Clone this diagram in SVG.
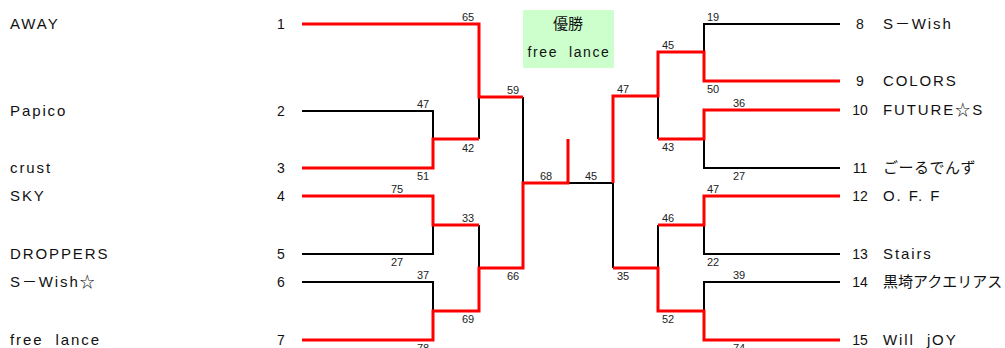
<svg xmlns="http://www.w3.org/2000/svg" width="1005" height="348" viewBox="0 0 1005 348">
<style>
.bg{fill:#ffffff}
.name{font-family:"Liberation Sans","Noto Sans CJK JP",sans-serif;font-size:15px;letter-spacing:1.9px;fill:#111}
.jp{font-family:"Noto Sans CJK JP","Liberation Sans",sans-serif;font-size:15px;letter-spacing:0.5px;fill:#111}
.num{font-family:"Liberation Sans",sans-serif;font-size:14px;fill:#111;text-anchor:middle}
.sc{font-family:"Liberation Sans",sans-serif;font-size:11px;fill:#222;text-anchor:middle}
.blk{fill:none;stroke:#000;stroke-width:2}
.red{fill:none;stroke:#ff0000;stroke-width:3;stroke-linejoin:miter}
.box{fill:#ccffcc}
.bt{font-family:"Liberation Sans","Noto Sans CJK JP",sans-serif;font-size:14px;letter-spacing:1.6px;fill:#111;text-anchor:middle}
.btj{font-family:"Noto Sans CJK JP",sans-serif;font-size:15px;fill:#111;text-anchor:middle}
</style>
<rect class="bg" x="0" y="0" width="1005" height="348"/>

<g id="connectors">
  <!-- black (losing) lines -->
  <path class="blk" d="M302,111 H433 V139"/>
  <path class="blk" d="M479,97 V139"/>
  <path class="blk" d="M523,97 V183"/>
  <path class="blk" d="M302,254 H433 V225"/>
  <path class="blk" d="M479,225 V268"/>
  <path class="blk" d="M302,282 H433 V311"/>
  <path class="blk" d="M568,183 H613 V268"/>
  <path class="blk" d="M840,24 H704 V52"/>
  <path class="blk" d="M658,96 V139"/>
  <path class="blk" d="M840,168 H704 V139"/>
  <path class="blk" d="M840,254 H704 V225"/>
  <path class="blk" d="M658,225 V268"/>
  <path class="blk" d="M840,282 H704 V311"/>
  <!-- red (winning) lines -->
  <path class="red" d="M302,24 H479 V97 H523"/>
  <path class="red" d="M302,168 H433 V139 H479"/>
  <path class="red" d="M302,196 H433 V225 H479"/>
  <path class="red" d="M302,340 H433 V311 H479 V268 H523 V183 H568 V139"/>
  <path class="red" d="M840,81 H704 V52 H658 V96 H613 V183"/>
  <path class="red" d="M840,110 H704 V139 H658"/>
  <path class="red" d="M840,196 H704 V225 H658"/>
  <path class="red" d="M840,340 H704 V311 H658 V268 H613"/>
  <!-- scores -->
  <text class="sc" x="468" y="21">65</text>
  <text class="sc" x="423" y="108">47</text>
  <text class="sc" x="468" y="152">42</text>
  <text class="sc" x="513" y="94">59</text>
  <text class="sc" x="423" y="180">51</text>
  <text class="sc" x="397" y="193">75</text>
  <text class="sc" x="468" y="222">33</text>
  <text class="sc" x="397" y="266">27</text>
  <text class="sc" x="423" y="279">37</text>
  <text class="sc" x="468" y="323">69</text>
  <text class="sc" x="513" y="280">66</text>
  <text class="sc" x="423" y="352">78</text>
  <text class="sc" x="546" y="180">68</text>
  <text class="sc" x="591" y="180">45</text>
  <text class="sc" x="713" y="21">19</text>
  <text class="sc" x="668" y="49">45</text>
  <text class="sc" x="713" y="93">50</text>
  <text class="sc" x="739" y="107">36</text>
  <text class="sc" x="623" y="93">47</text>
  <text class="sc" x="668" y="151">43</text>
  <text class="sc" x="739" y="180">27</text>
  <text class="sc" x="713" y="193">47</text>
  <text class="sc" x="668" y="222">46</text>
  <text class="sc" x="713" y="266">22</text>
  <text class="sc" x="739" y="279">39</text>
  <text class="sc" x="623" y="280">35</text>
  <text class="sc" x="668" y="323">52</text>
  <text class="sc" x="739" y="352">74</text>
</g>

<g id="champion">
  <rect class="box" x="523" y="10" width="91" height="58"/>
  <text class="btj" x="568" y="29">優勝</text>
  <text class="bt" x="569" y="57" xml:space="preserve">free  lance</text>
</g>

<g id="team1"><text class="name" x="10" y="29">AWAY</text><text class="num" x="281" y="29">1</text></g>
<g id="team2"><text class="name" x="10" y="116">Papico</text><text class="num" x="281" y="116">2</text></g>
<g id="team3"><text class="name" x="10" y="173">crust</text><text class="num" x="281" y="173">3</text></g>
<g id="team4"><text class="name" x="10" y="201">SKY</text><text class="num" x="281" y="201">4</text></g>
<g id="team5"><text class="name" x="10" y="259">DROPPERS</text><text class="num" x="281" y="259">5</text></g>
<g id="team6"><text class="name" x="10" y="287">S－Wish☆</text><text class="num" x="281" y="287">6</text></g>
<g id="team7"><text class="name" x="10" y="345" xml:space="preserve">free  lance</text><text class="num" x="281" y="345">7</text></g>

<g id="team8"><text class="num" x="860" y="29">8</text><text class="name" x="883" y="29">S－Wish</text></g>
<g id="team9"><text class="num" x="860" y="86">9</text><text class="name" x="883" y="86">COLORS</text></g>
<g id="team10"><text class="num" x="860" y="115">10</text><text class="name" x="883" y="115">FUTURE☆S</text></g>
<g id="team11"><text class="num" x="860" y="173">11</text><text class="jp" x="883" y="173">ごーるでんず</text></g>
<g id="team12"><text class="num" x="860" y="201">12</text><text class="name" x="883" y="201">O. F. F</text></g>
<g id="team13"><text class="num" x="860" y="259">13</text><text class="name" x="883" y="259">Stairs</text></g>
<g id="team14"><text class="num" x="860" y="287">14</text><text class="jp" x="883" y="287" style="letter-spacing:0">黒埼アクエリアス</text></g>
<g id="team15"><text class="num" x="860" y="345">15</text><text class="name" x="883" y="345" xml:space="preserve">Will  jOY</text></g>
</svg>
